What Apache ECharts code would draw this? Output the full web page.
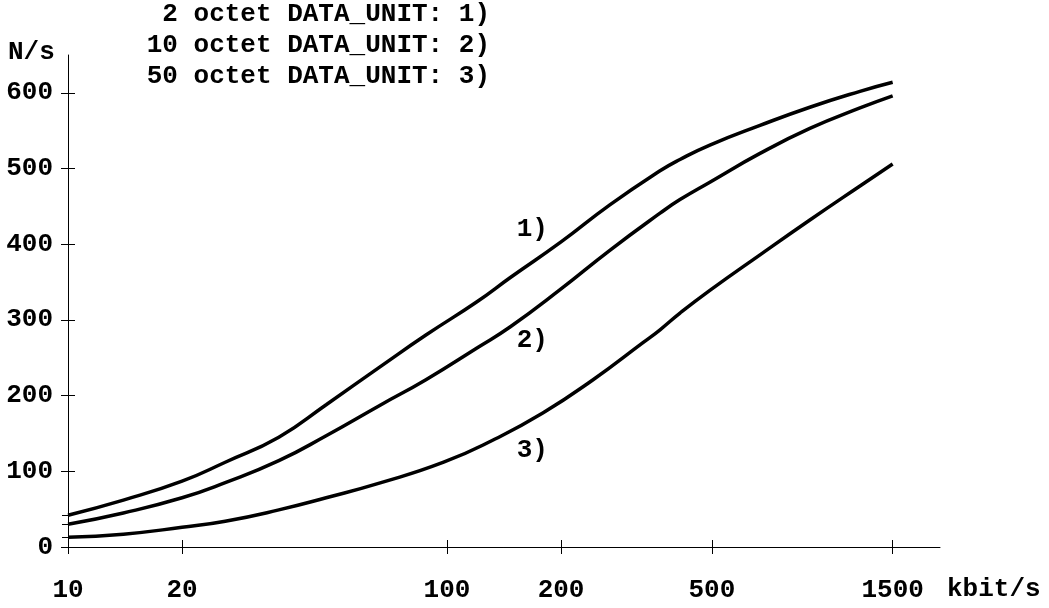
<!DOCTYPE html>
<html>
<head>
<meta charset="utf-8">
<script src="https://cdn.jsdelivr.net/npm/echarts@6/dist/echarts.min.js"></script>
<style>
  html, body { margin: 0; padding: 0; background: #fff; }
  #chart { width: 1049px; height: 608px; }
</style>
</head>
<body>
<div id="chart"></div>
<script>
  // kbit/s (x) against N/s (y)
  var rates1 = [10, 14, 20, 26, 36, 48, 67, 88, 120, 147, 200, 269, 365, 412, 494, 670, 907, 1230, 1500];
  var calls1 = [42, 62, 87, 112, 145, 188, 239, 280, 324, 356, 403, 452, 497, 512, 531, 557, 581, 602, 614];

  var rates2 = [10, 14, 20, 26, 36, 48, 67, 88, 120, 147, 200, 269, 365, 412, 494, 670, 907, 1230, 1500];
  var calls2 = [30, 45, 65, 85, 114, 147, 188, 221, 263, 291, 341, 392, 441, 459, 482, 520, 553, 580, 596];

  var rates3 = [10, 14, 20, 26, 36, 48, 67, 98, 132, 179, 243, 329, 365, 412, 494, 670, 907, 1230, 1500];
  var calls3 = [13, 17, 26, 34, 49, 65, 85, 112, 141, 177, 221, 270, 287, 309, 339, 386, 432, 477, 506];

  var curveNames = ['1)', '2)', '3)'];
  var legendLines = ['2 octet DATA_UNIT: 1)', '10 octet DATA_UNIT: 2)', '50 octet DATA_UNIT: 3)'];
  var labelRates = [168, 168, 168];
  var labelCalls = [419, 273, 128];

  var xTicks = [10, 20, 100, 200, 500, 1500];
  var yTicks = [0, 100, 200, 300, 400, 500, 600];
  var startTicks = [13, 30, 42];   // small marks at the curves' starting values

  var font = '"Courier New", "Liberation Mono", monospace';
  var fontSize = 26;

  function lg(v) { return Math.log10(v); }
  function pairs(xs, ys) {
    var out = [];
    for (var i = 0; i < xs.length; i++) out.push([lg(xs[i]), ys[i]]);
    return out;
  }

  var xMin = lg(10), xMax = lg(2000);
  var lineStyleAxis = { color: '#000', width: 1 };

  var xAxes = [
    {
      type: 'value', position: 'bottom', min: xMin, max: xMax,
      splitLine: { show: false },
      axisLine: { show: true, lineStyle: lineStyleAxis },
      axisTick: { show: true, length: 7, inside: false, customValues: xTicks.map(lg), lineStyle: lineStyleAxis },
      axisLabel: {
        show: true, margin: 30, customValues: xTicks.map(lg),
        color: '#000', fontFamily: font, fontWeight: 'bold', fontSize: fontSize,
        formatter: function (v) { return String(Math.round(Math.pow(10, v))); }
      }
    },
    {
      type: 'value', position: 'bottom', min: xMin, max: xMax,
      splitLine: { show: false }, axisLine: { show: false }, axisLabel: { show: false },
      axisTick: { show: true, length: 7, inside: true, customValues: xTicks.map(lg), lineStyle: lineStyleAxis }
    }
  ];

  var yAxes = [
    {
      type: 'value', position: 'left', min: 0, max: 650,
      splitLine: { show: false },
      axisLine: { show: true, lineStyle: lineStyleAxis },
      axisTick: { show: true, length: 7, inside: false, customValues: yTicks, lineStyle: lineStyleAxis },
      axisLabel: {
        show: true, margin: 15, customValues: yTicks,
        color: '#000', fontFamily: font, fontWeight: 'bold', fontSize: fontSize
      }
    },
    {
      type: 'value', position: 'left', min: 0, max: 650,
      splitLine: { show: false }, axisLine: { show: false }, axisLabel: { show: false },
      axisTick: { show: true, length: 7, inside: true, customValues: yTicks, lineStyle: lineStyleAxis }
    },
    {
      type: 'value', position: 'left', min: 0, max: 650,
      splitLine: { show: false }, axisLine: { show: false }, axisLabel: { show: false },
      axisTick: { show: true, length: 6, inside: false, customValues: startTicks, lineStyle: lineStyleAxis }
    }
  ];

  var rateSets = [rates1, rates2, rates3];
  var callSets = [calls1, calls2, calls3];
  var series = [];
  for (var i = 0; i < 3; i++) {
    series.push({
      type: 'line',
      xAxisIndex: 0, yAxisIndex: 0,
      data: pairs(rateSets[i], callSets[i]),
      smooth: 0.5,
      showSymbol: false,
      silent: true,
      lineStyle: { color: '#000', width: 3.5 },
      markPoint: {
        symbol: 'circle', symbolSize: 0, silent: true,
        label: {
          show: true, color: '#000', fontFamily: font, fontWeight: 'bold', fontSize: fontSize,
          formatter: curveNames[i]
        },
        data: [{ coord: [lg(labelRates[i]), labelCalls[i]] }]
      }
    });
  }

  var graphics = [
    { type: 'text', left: 8, top: 39, style: { text: 'N/s', fill: '#000', font: 'bold ' + fontSize + 'px ' + font } },
    { type: 'text', left: 947, top: 576, style: { text: 'kbit/s', fill: '#000', font: 'bold ' + fontSize + 'px ' + font } }
  ];
  legendLines.forEach(function (t, k) {
    graphics.push({
      type: 'text', right: 1049 - 490, top: 1 + k * 31,
      style: { text: t, fill: '#000', font: 'bold ' + fontSize + 'px ' + font }
    });
  });

  var myChart = echarts.init(document.getElementById('chart'));
  myChart.setOption({
    animation: false,
    backgroundColor: '#fff',
    grid: { left: 68, right: 109, top: 55, bottom: 61, containLabel: false },
    xAxis: xAxes,
    yAxis: yAxes,
    series: series,
    graphic: graphics
  });
</script>
</body>
</html>
